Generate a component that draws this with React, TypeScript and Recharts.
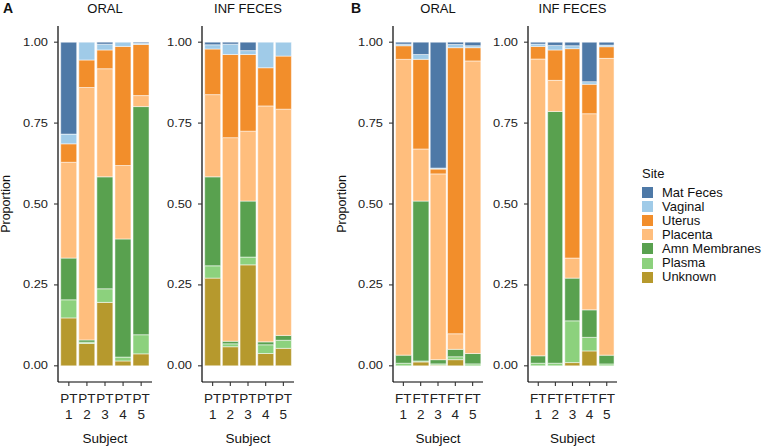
import React from "react";
import { BarChart, Bar, XAxis, YAxis } from "recharts";

const SITES = ["Mat Feces", "Vaginal", "Uterus", "Placenta", "Amn Membranes", "Plasma", "Unknown"];
const COLORS = ["#4E79A7", "#A0CBE8", "#F28E2B", "#FFBE7D", "#59A14F", "#8CD17D", "#B6992D"];
const STACK_ORDER = ["Unknown", "Plasma", "Amn Membranes", "Placenta", "Uterus", "Vaginal", "Mat Feces"];

const subjectsPT = ["PT 1", "PT 2", "PT 3", "PT 4", "PT 5"];
const subjectsFT = ["FT 1", "FT 2", "FT 3", "FT 4", "FT 5"];
const yTicks = [0, 0.25, 0.5, 0.75, 1];

// Panel A – ORAL
const aOralMatFeces = [0.284, 0, 0.006, 0, 0.003];
const aOralVaginal = [0.03, 0.055, 0.018, 0.013, 0.004];
const aOralUterus = [0.057, 0.085, 0.058, 0.368, 0.158];
const aOralPlacenta = [0.296, 0.78, 0.334, 0.227, 0.034];
const aOralAmn = [0.129, 0.007, 0.346, 0.365, 0.705];
const aOralPlasma = [0.056, 0.004, 0.042, 0.012, 0.059];
const aOralUnknown = [0.148, 0.069, 0.196, 0.015, 0.037];

// Panel A – INF FECES
const aInfMatFeces = [0.008, 0.006, 0.026, 0, 0];
const aInfVaginal = [0.013, 0.032, 0.012, 0.079, 0.043];
const aInfUterus = [0.141, 0.257, 0.237, 0.118, 0.164];
const aInfPlacenta = [0.254, 0.629, 0.216, 0.729, 0.699];
const aInfAmn = [0.275, 0.008, 0.173, 0.009, 0.015];
const aInfPlasma = [0.038, 0.009, 0.024, 0.027, 0.025];
const aInfUnknown = [0.271, 0.059, 0.312, 0.038, 0.054];

// Panel B – ORAL
const bOralMatFeces = [0.006, 0.038, 0.389, 0.007, 0.011];
const bOralVaginal = [0.005, 0.015, 0.003, 0.01, 0.006];
const bOralUterus = [0.042, 0.277, 0.015, 0.884, 0.041];
const bOralPlacenta = [0.914, 0.161, 0.574, 0.048, 0.904];
const bOralAmn = [0.025, 0.494, 0.013, 0.023, 0.032];
const bOralPlasma = [0.008, 0.003, 0.004, 0.009, 0.006];
const bOralUnknown = [0, 0.012, 0.002, 0.019, 0];

// Panel B – INF FECES
const bInfMatFeces = [0.006, 0.01, 0.011, 0.122, 0.009];
const bInfVaginal = [0.007, 0.014, 0.009, 0.008, 0.005];
const bInfUterus = [0.039, 0.094, 0.647, 0.091, 0.036];
const bInfPlacenta = [0.917, 0.096, 0.062, 0.606, 0.917];
const bInfAmn = [0.023, 0.778, 0.132, 0.085, 0.027];
const bInfPlasma = [0.008, 0.008, 0.129, 0.042, 0.006];
const bInfUnknown = [0, 0, 0.01, 0.046, 0];

const FONT = "'Liberation Sans', Arial, Helvetica, sans-serif";

function buildRows(subjects: string[], series: number[][]) {
  return subjects.map((s, i) => {
    const row: Record<string, any> = { subject: s };
    SITES.forEach((site, k) => {
      row[site] = series[k][i];
    });
    return row;
  });
}

const panels = [
  {
    title: "ORAL",
    axisX: 58,
    plotRight: 152,
    rows: buildRows(subjectsPT, [aOralMatFeces, aOralVaginal, aOralUterus, aOralPlacenta, aOralAmn, aOralPlasma, aOralUnknown]),
  },
  {
    title: "INF FECES",
    axisX: 202,
    plotRight: 294,
    rows: buildRows(subjectsPT, [aInfMatFeces, aInfVaginal, aInfUterus, aInfPlacenta, aInfAmn, aInfPlasma, aInfUnknown]),
  },
  {
    title: "ORAL",
    axisX: 393,
    plotRight: 483,
    rows: buildRows(subjectsFT, [bOralMatFeces, bOralVaginal, bOralUterus, bOralPlacenta, bOralAmn, bOralPlasma, bOralUnknown]),
  },
  {
    title: "INF FECES",
    axisX: 528,
    plotRight: 617,
    rows: buildRows(subjectsFT, [bInfMatFeces, bInfVaginal, bInfUterus, bInfPlacenta, bInfAmn, bInfPlasma, bInfUnknown]),
  },
];

const XTick = (props: any) => {
  const { x, y, payload } = props;
  const parts = String(payload.value).split(" ");
  return (
    <g>
      <text x={x} y={y + 10.5} textAnchor="middle" dominantBaseline="central" fontSize={13.5} fill="#222" fontFamily={FONT}>
        {parts[0]}
      </text>
      <text x={x} y={y + 26.5} textAnchor="middle" dominantBaseline="central" fontSize={13.5} fill="#222" fontFamily={FONT}>
        {parts[1]}
      </text>
    </g>
  );
};

const YTick = (props: any) => {
  const { x, y, payload } = props;
  return (
    <text
      x={x - 4}
      y={y}
      textAnchor="end"
      dominantBaseline="central"
      fontSize={10}
      fill="#222"
      fontFamily={FONT}
      textLength={25}
      lengthAdjust="spacingAndGlyphs"
    >
      {Number(payload.value).toFixed(2)}
    </text>
  );
};

const YAXIS_W = 45;

function Panel({ axisX, plotRight, rows }: any) {
  const L = axisX - YAXIS_W;
  const width = plotRight - L + 4;
  const plotW = plotRight - axisX;
  const pad = Math.round(((plotW / 5.2) * 0.1) * 10) / 10;
  return (
    <div style={{ position: "absolute", left: L, top: 0 }}>
      <BarChart
        width={width}
        height={447}
        data={rows}
        margin={{ top: 26, right: 4, bottom: 35, left: 0 }}
        barCategoryGap="5%"
      >
        <XAxis
          dataKey="subject"
          type="category"
          height={30}
          interval={0}
          padding={{ left: pad, right: pad }}
          tickSize={4}
          tick={<XTick />}
          axisLine={{ stroke: "#000", strokeWidth: 1.2 }}
          tickLine={{ stroke: "#333", strokeWidth: 1.1 }}
        />
        <YAxis
          type="number"
          domain={[-0.05, 1.05]}
          allowDataOverflow
          ticks={yTicks}
          width={YAXIS_W}
          tickSize={4}
          tick={<YTick />}
          axisLine={{ stroke: "#000", strokeWidth: 1.2 }}
          tickLine={{ stroke: "#333", strokeWidth: 1.1 }}
        />
        {STACK_ORDER.map((site) => (
          <Bar
            key={site}
            dataKey={site}
            stackId="s"
            fill={COLORS[SITES.indexOf(site)]}
            stroke="#fff"
            strokeWidth={0.5}
            isAnimationActive={false}
          />
        ))}
      </BarChart>
    </div>
  );
}

const textStyle: React.CSSProperties = {
  position: "absolute",
  fontFamily: FONT,
  color: "#111",
  whiteSpace: "nowrap",
};

export default function App() {
  return (
    <div style={{ position: "absolute", left: 0, top: 0, width: 763, height: 447, background: "#fff", overflow: "hidden" }}>
      {panels.map((p, i) => (
        <Panel key={i} {...p} />
      ))}
      {/* panel letters */}
      <div style={{ ...textStyle, left: 3, top: 0, fontSize: 14, fontWeight: "bold", lineHeight: "17px" }}>A</div>
      <div style={{ ...textStyle, left: 351, top: 0, fontSize: 14, fontWeight: "bold", lineHeight: "17px" }}>B</div>
      {/* titles */}
      {panels.map((p, i) => (
        <div
          key={"t" + i}
          style={{
            ...textStyle,
            left: (p.axisX + p.plotRight) / 2 - 60,
            width: 120,
            textAlign: "center",
            top: 0,
            fontSize: 13,
            lineHeight: "17px",
          }}
        >
          {p.title}
        </div>
      ))}
      {/* Subject labels */}
      {panels.map((p, i) => (
        <div
          key={"s" + i}
          style={{
            ...textStyle,
            left: (p.axisX + p.plotRight) / 2 - 50,
            width: 100,
            textAlign: "center",
            top: 431,
            fontSize: 13.5,
            lineHeight: "16px",
          }}
        >
          Subject
        </div>
      ))}
      {/* Proportion labels */}
      {[6, 342].map((cx, i) => (
        <div
          key={"p" + i}
          style={{
            ...textStyle,
            left: cx - 50,
            top: 204 - 8,
            width: 100,
            height: 16,
            lineHeight: "16px",
            textAlign: "center",
            fontSize: 12.5,
            transform: "rotate(-90deg)",
          }}
        >
          Proportion
        </div>
      ))}
      {/* Legend */}
      <div style={{ ...textStyle, left: 642, top: 166, fontSize: 13, lineHeight: "16px" }}>Site</div>
      {SITES.map((site, i) => (
        <React.Fragment key={site}>
          <div
            style={{
              position: "absolute",
              left: 642,
              top: 187 + 14.1 * i,
              width: 11,
              height: 11,
              background: COLORS[i],
            }}
          />
          <div
            style={{
              ...textStyle,
              left: 662,
              top: 184.5 + 14.1 * i,
              fontSize: 13,
              lineHeight: "16px",
            }}
          >
            {site}
          </div>
        </React.Fragment>
      ))}
    </div>
  );
}
